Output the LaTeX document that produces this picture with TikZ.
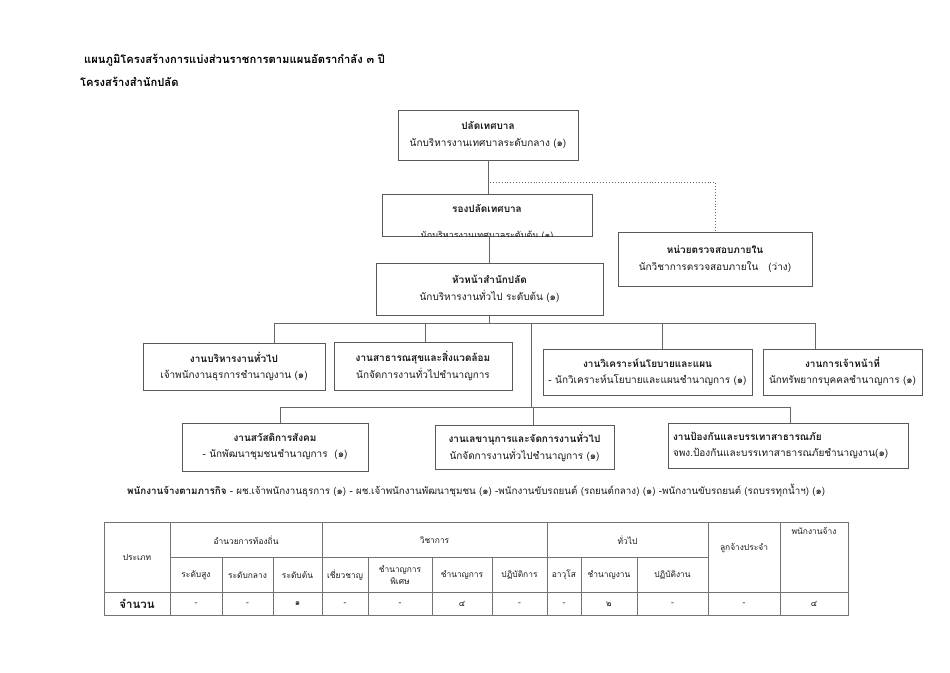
\documentclass[tikz,border=0pt]{standalone}
\usepackage{fontspec}
\setmainfont[Script=Thai]{Loma}
\begin{document}
\begin{tikzpicture}[x=1pt,y=-1pt,
  box/.style={draw=black!65, line width=0.9pt, inner sep=0pt, align=center, text=black!90, font=\fontsize{10}{12}\selectfont},
  conn/.style={draw=black!60, line width=0.9pt},
  tline/.style={draw=black!55, line width=0.6pt},
  tcell/.style={inner sep=0pt, align=center, text=black!90, font=\fontsize{8.4}{10}\selectfont},
  titletext/.style={inner sep=0pt, anchor=west, text=black, font=\bfseries\fontsize{11.2}{13}\selectfont}]
\useasboundingbox[fill=white] (0,0) rectangle (950,672);

% titles
\node[titletext] (t1) at (84,60) {แผนภูมิโครงสร้างการแบ่งส่วนราชการตามแผนอัตรากำลัง ๓ ปี};
\node[titletext] (t2) at (80,82) {โครงสร้างสำนักปลัด};

% boxes
\node[box, minimum width=180pt, minimum height=50pt] (top) at (488,135)
  {{\bfseries ปลัดเทศบาล}\\[5pt]นักบริหารงานเทศบาลระดับกลาง (๑)};
\node[box, minimum width=210pt, minimum height=42pt] (dep) at (487,215) {};
\begin{scope}
  \clip (dep.north west) rectangle (dep.south east);
  \node[box, draw=none] (deptitle) at (487,208) {\bfseries รองปลัดเทศบาล};
  \node[box, draw=none, font=\fontsize{9}{11}\selectfont] (depsub) at (487,235.5) {นักบริหารงานเทศบาลระดับต้น (๑)};
\end{scope}
\node[box, minimum width=194pt, minimum height=54pt] (audit) at (715,259)
  {{\bfseries หน่วยตรวจสอบภายใน}\\[5pt]นักวิชาการตรวจสอบภายใน\quad(ว่าง)};
\node[box, minimum width=227pt, minimum height=52pt] (head) at (489.5,289)
  {{\bfseries หัวหน้าสำนักปลัด}\\[5pt]นักบริหารงานทั่วไป ระดับต้น (๑)};

\node[box, minimum width=182pt, minimum height=47pt] (A) at (234,366.5)
  {{\bfseries งานบริหารงานทั่วไป}\\[4pt]เจ้าพนักงานธุรการชำนาญงาน (๑)};
\node[box, minimum width=178pt, minimum height=48pt] (B) at (423,366)
  {{\bfseries งานสาธารณสุขและสิ่งแวดล้อม}\\[4pt]นักจัดการงานทั่วไปชำนาญการ};
\node[box, minimum width=209pt, minimum height=46pt] (C) at (647.5,372)
  {{\bfseries งานวิเคราะห์นโยบายและแผน}\\[4pt]- นักวิเคราะห์นโยบายและแผนชำนาญการ (๑)};
\node[box, minimum width=159pt, minimum height=46pt] (D) at (842.5,372)
  {{\bfseries งานการเจ้าหน้าที่}\\[4pt]นักทรัพยากรบุคคลชำนาญการ (๑)};

\node[box, minimum width=186pt, minimum height=48pt] (E) at (275,447)
  {{\bfseries งานสวัสดิการสังคม}\\[4pt]- นักพัฒนาชุมชนชำนาญการ\ \ (๑)};
\node[box, minimum width=179pt, minimum height=44pt] (F) at (524.5,447)
  {{\bfseries งานเลขานุการและจัดการงานทั่วไป}\\[4pt]นักจัดการงานทั่วไปชำนาญการ (๑)};
\node[box, minimum width=240pt, minimum height=45pt, align=left, text width=230pt] (G) at (788,445.5)
  {{\bfseries งานป้องกันและบรรเทาสาธารณภัย}\\[4pt]จพง.ป้องกันและบรรเทาสาธารณภัยชำนาญงาน(๑)};

% connectors
\draw[conn] (top.south) -- (top.south |- dep.north);
\draw[conn] (dep.south -| head.north) -- (head.north);
\coordinate (dotstart) at (490,182);
\draw[conn, dotted, line width=1pt] (dotstart) -| (audit.north);

\coordinate (b1) at (489.5,323);
\coordinate (b1a) at (274,323);
\coordinate (b1b) at (425,323);
\coordinate (b1c) at (662,323);
\coordinate (b1d) at (815,323);
\coordinate (tr) at (531,323);
\draw[conn] (head.south) -- (b1);
\draw[conn] (b1a) -- (b1d);
\draw[conn] (b1a) -- (b1a |- A.north);
\draw[conn] (b1b) -- (b1b |- B.north);
\draw[conn] (b1c) -- (b1c |- C.north);
\draw[conn] (b1d) -- (b1d |- D.north);

\coordinate (b2) at (531,407);
\coordinate (b2e) at (280,407);
\coordinate (b2f) at (533,407);
\coordinate (b2g) at (790,407);
\draw[conn] (tr) -- (b2);
\draw[conn] (b2e) -- (b2g);
\draw[conn] (b2e) -- (b2e |- E.north);
\draw[conn] (b2f) -- (b2f |- F.north);
\draw[conn] (b2g) -- (b2g |- G.north);

% staff line
\node[inner sep=0pt, anchor=west, text=black!90, font=\fontsize{9.8}{11}\selectfont] (staff) at (127,491)
  {{\bfseries พนักงานจ้างตามภารกิจ} - ผช.เจ้าพนักงานธุรการ (๑) - ผช.เจ้าพนักงานพัฒนาชุมชน (๑) -พนักงานขับรถยนต์ (รถยนต์กลาง) (๑) -พนักงานขับรถยนต์ (รถบรรทุกน้ำฯ) (๑)};

% table
\draw[tline] (104,522) rectangle (848,615);
\draw[tline] (170,557) -- (708,557);
\draw[tline] (104,592) -- (848,592);
\foreach \x in {170,322,547,708,780} \draw[tline] (\x,522) -- (\x,615);
\foreach \x in {222,273,368,432,492,581,637} \draw[tline] (\x,557) -- (\x,615);

\node[tcell] (h0) at (137,557) {ประเภท};
\node[tcell, font=\bfseries\fontsize{11.5}{13}\selectfont] (r0) at (137,604) {จำนวน};
\node[tcell] (h1) at (246,540) {อำนวยการท้องถิ่น};
\node[tcell] (h2) at (434.5,540) {วิชาการ};
\node[tcell] (h3) at (627.5,540) {ทั่วไป};
\node[tcell] (h4) at (744,548) {ลูกจ้างประจำ};
\node[tcell] (h5) at (814,531) {พนักงานจ้าง};

\node[tcell] (s1) at (196,575) {ระดับสูง};
\node[tcell] (s2) at (247.5,575) {ระดับกลาง};
\node[tcell] (s3) at (297.5,575) {ระดับต้น};
\node[tcell] (s4) at (345,575) {เชี่ยวชาญ};
\node[tcell, font=\fontsize{8.4}{12}\selectfont] (s5) at (400,575) {ชำนาญการ\\พิเศษ};
\node[tcell] (s6) at (462,575) {ชำนาญการ};
\node[tcell] (s7) at (519.5,575) {ปฏิบัติการ};
\node[tcell] (s8) at (564,575) {อาวุโส};
\node[tcell] (s9) at (609,575) {ชำนาญงาน};
\node[tcell] (s10) at (672.5,575) {ปฏิบัติงาน};

\foreach \x/\v [count=\i] in {196/-,247.5/-,297.5/๑,345/-,400/-,462/๔,519.5/-,564/-,609/๒,672.5/-,744/-,814/๔}
  \node[tcell] (d\i) at (\x,604) {\v};
\end{tikzpicture}
\end{document}
